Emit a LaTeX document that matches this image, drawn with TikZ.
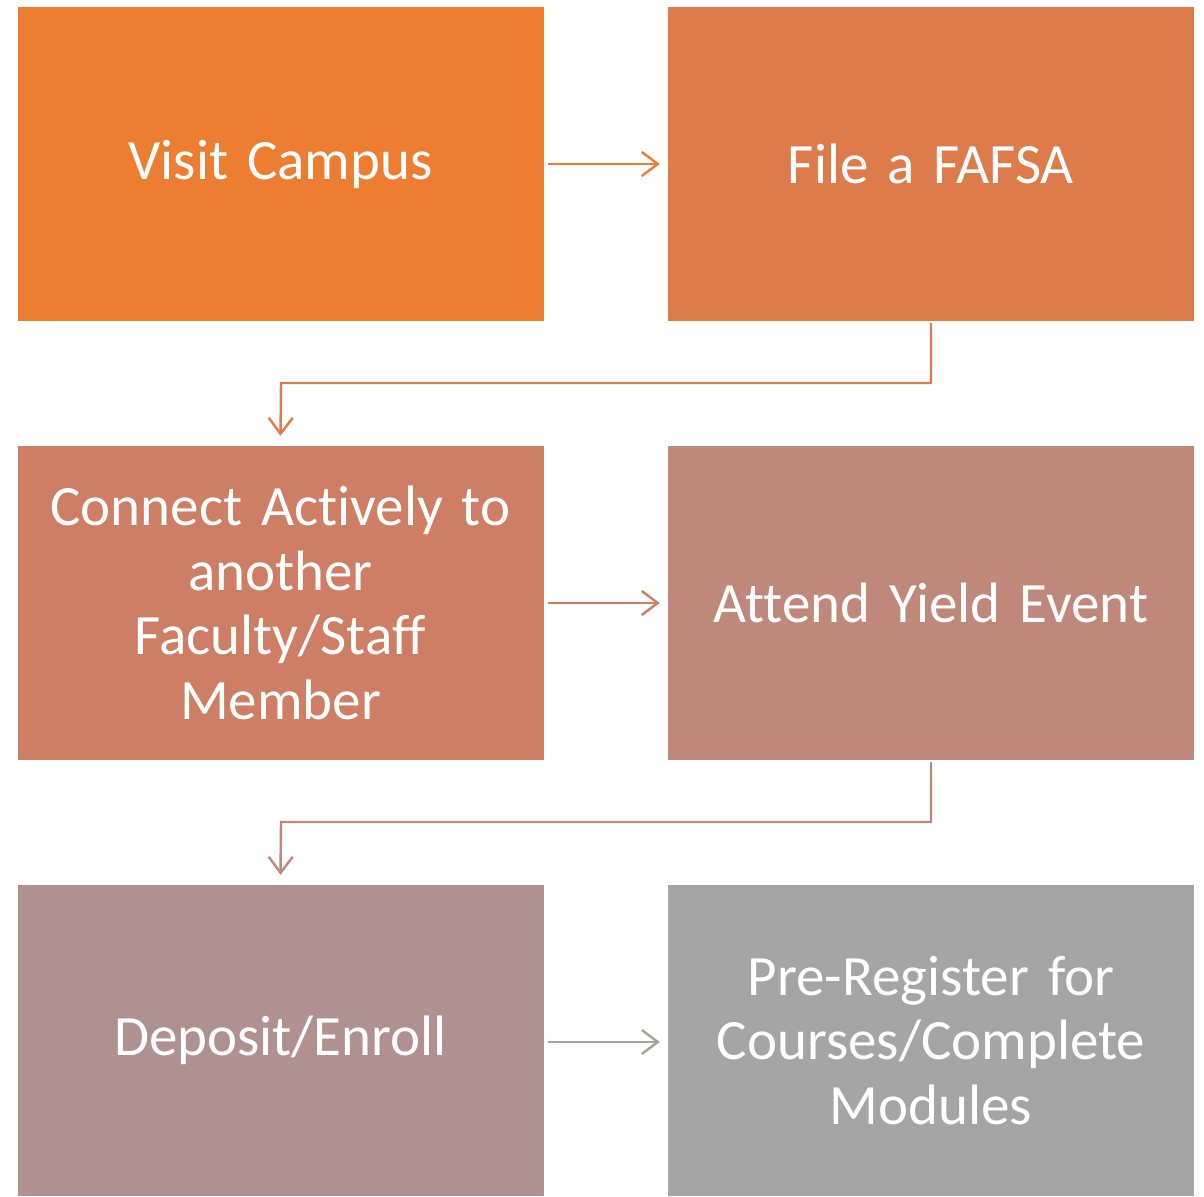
\documentclass[tikz,border=0pt]{standalone}
\usepackage{fontspec}
\setmainfont{Carlito}[Ligatures=NoCommon,WordSpace=0.8]
\usetikzlibrary{arrows.meta}
\definecolor{cA}{RGB}{237,125,49}
\definecolor{cB}{RGB}{222,123,75}
\definecolor{cC}{RGB}{205,126,101}
\definecolor{cD}{RGB}{191,136,122}
\definecolor{cE}{RGB}{175,146,143}
\definecolor{cF}{RGB}{165,165,165}
\definecolor{aA}{RGB}{237,125,49}
\definecolor{aB}{RGB}{222,123,75}
\definecolor{aC}{RGB}{205,126,101}
\definecolor{aD}{RGB}{191,136,122}
\definecolor{aE}{RGB}{170,160,160}
\begin{document}
\begin{tikzpicture}[x=1pt,y=-1pt,
  stepbox/.style={draw=none,minimum width=526pt,minimum height=314pt,inner sep=0pt,
    text=white,align=center,text width=490pt,
    font=\fontsize{57}{64.5}\selectfont},
  flow/.style={line width=2.4pt,-{Straight Barb[length=16pt,width=24pt,line width=2.4pt]}}]
\useasboundingbox (0,0) rectangle (1204,1196);
\fill[white] (0,0) rectangle (1204,1196);
\node[stepbox,fill=cA] (s1) at (280.5,164) {Visit Campus};
\node[stepbox,fill=cB] (s2) at (931,164) {File a FAFSA};
\node[stepbox,fill=cC] (s3) at (280.5,603) {Connect Actively to\\another\\Faculty/Staff\\Member};
\node[stepbox,fill=cD] (s4) at (931,603) {Attend Yield Event};
\node[stepbox,fill=cE,minimum height=311pt] (s5) at (280.5,1040.5) {Deposit/Enroll};
\node[stepbox,fill=cF,minimum height=311pt] (s6) at (931,1040.5) {Pre-Register for\\Courses/Complete\\Modules};
\coordinate (k1) at (281,383);
\coordinate (k2) at (281,822);
\draw[flow,draw=aA] ([xshift=4pt]s1.east |- 0,164) -- ([xshift=-8pt]s2.west |- 0,164);
\draw[flow,draw=aB] ([yshift=-2pt]s2.south) |- (k1) -- ([yshift=10pt]s3.north);
\draw[flow,draw=aC] ([xshift=4pt]s3.east) -- ([xshift=-8pt]s4.west);
\draw[flow,draw=aD] ([yshift=-2pt]s4.south) |- (k2) -- ([yshift=10pt]s5.north);
\draw[flow,draw=aE] ([xshift=4pt]s5.east |- 0,1042) -- ([xshift=-8pt]s6.west |- 0,1042);
\end{tikzpicture}
\end{document}
